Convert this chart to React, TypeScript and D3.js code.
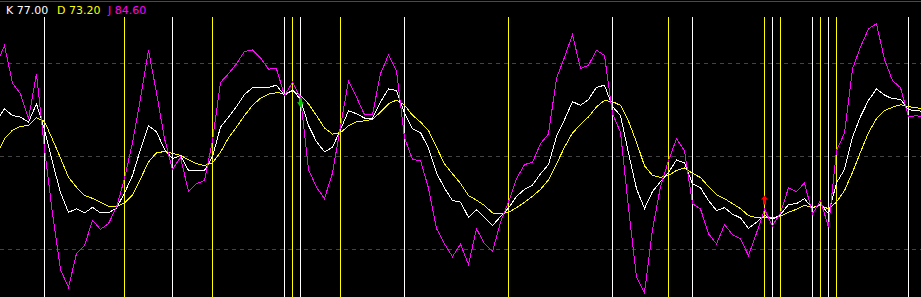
import React, { useEffect } from 'react';
import * as d3 from 'd3';

const W = 921;
const H = 297;

// bar indices run from -1 (just off the left edge) to 115
const firstBar = -1;
const lastBar = 115;

const kValues = [
  61.6, 65.4, 63.2, 62.7, 61.1, 67.0, 58.7, 48.1, 38.4, 32.0,
  33.1, 31.8, 33.6, 31.8, 31.8, 33.4, 38.2, 43.9, 52.3, 59.9,
  58.0, 52.3, 49.3, 50.3, 45.5, 45.5, 45.5, 50.0, 59.5, 62.7,
  66.1, 70.0, 72.2, 72.4, 72.3, 73.0, 69.7, 71.5, 68.4, 60.0,
  54.8, 51.5, 53.0, 58.7, 64.7, 63.8, 62.4, 62.4, 67.6, 71.8,
  71.3, 63.9, 58.9, 57.7, 52.7, 44.7, 39.8, 35.8, 35.3, 30.4,
  32.8, 30.3, 27.7, 30.6, 33.4, 37.1, 39.4, 40.8, 44.4, 47.4,
  56.5, 61.9, 67.7, 66.5, 68.4, 72.3, 73.0, 66.1, 63.2, 51.1,
  39.6, 33.2, 38.7, 41.9, 44.8, 48.9, 47.9, 41.2, 39.9, 35.8,
  32.6, 33.5, 31.4, 30.2, 26.8, 28.8, 31.0, 29.7, 31.3, 34.5,
  34.8, 36.4, 33.3, 34.7, 31.5, 41.5, 45.8, 56.2, 62.9, 68.1,
  71.8, 69.8, 68.6, 68.5, 65.1, 64.8, 64.5,
];

const dValues = [
  50.6, 55.7, 58.5, 59.7, 60.0, 62.5, 61.3, 55.5, 49.5, 43.3,
  40.1, 37.4, 36.5, 35.2, 33.9, 33.8, 35.0, 37.6, 42.8, 48.2,
  51.2, 51.6, 51.0, 50.4, 48.9, 47.7, 47.1, 48.0, 51.4, 56.0,
  59.5, 63.2, 66.5, 68.8, 70.1, 70.6, 70.3, 71.0, 69.7, 67.0,
  63.2, 59.2, 57.2, 57.7, 59.9, 61.2, 61.5, 62.0, 64.3, 67.0,
  68.2, 66.6, 63.3, 61.1, 58.4, 53.0, 47.6, 44.4, 41.3, 37.4,
  35.9, 34.2, 31.8, 31.5, 32.0, 33.5, 35.2, 37.2, 39.4, 42.5,
  47.6, 53.0, 57.6, 60.3, 62.8, 66.0, 68.1, 67.7, 66.5, 61.4,
  54.6, 47.0, 43.9, 43.3, 43.9, 45.5, 46.3, 44.6, 43.2, 40.3,
  37.7, 36.4, 34.8, 33.2, 30.9, 30.3, 30.5, 30.2, 30.8, 32.0,
  33.0, 34.2, 33.6, 34.2, 33.1, 35.3, 39.0, 44.9, 51.4, 57.7,
  62.2, 64.8, 65.9, 66.7, 66.1, 65.7, 65.3,
];

const jValues = [
  79.7, 85.8, 73.7, 70.2, 62.2, 76.7, 52.5, 31.6, 13.5, 7.8,
  18.7, 21.3, 29.4, 26.5, 28.4, 33.6, 42.9, 54.5, 68.7, 84.2,
  70.6, 55.8, 45.8, 49.8, 38.7, 41.2, 42.3, 55.2, 73.9, 76.7,
  79.9, 83.9, 84.4, 81.8, 78.2, 78.3, 69.7, 73.9, 69.1, 45.8,
  40.1, 36.4, 44.7, 59.7, 74.4, 69.1, 63.5, 63.6, 76.7, 82.8,
  77.7, 56.1, 49.0, 48.7, 39.8, 26.8, 21.8, 17.7, 21.7, 15.2,
  26.7, 21.9, 19.3, 28.8, 35.3, 42.8, 47.4, 48.1, 54.1, 57.3,
  75.2, 82.0, 89.3, 78.4, 79.4, 84.3, 82.6, 63.8, 57.8, 33.5,
  11.1, 6.1, 26.5, 40.3, 48.7, 55.7, 51.9, 34.8, 33.1, 25.1,
  21.8, 28.0, 24.8, 23.5, 18.0, 25.3, 32.9, 27.7, 31.8, 39.9,
  38.6, 41.5, 31.5, 35.8, 27.2, 51.9, 57.6, 78.3, 85.3, 91.2,
  92.8, 81.3, 74.5, 72.2, 62.8, 63.2, 62.3,
];

const gridLevels = [20, 50, 80];
const buySignalBars = [95];
const sellSignalBars = [37];

const legendLabels = ['K', 'D', 'J'];
const legendValues = ['77.00', '73.20', '84.60'];
const legendColors = ['#ffffff', '#ffff00', '#ff00ff'];
const legendX = [6, 57, 108];

export default function App() {
  useEffect(() => {
    document.body.style.margin = '0';
    document.body.style.background = '#000';
  }, []);

  const bars = kValues.map((_, i) => i + firstBar);
  const x = d3.scaleLinear().domain([firstBar, lastBar]).range([-3.5, 924.5]);
  const y = d3.scaleLinear().domain([0, 100]).range([311.5, 1.5]);

  const mk = (vals: number[]) =>
    d3
      .line<number>()
      .x((_, i) => x(bars[i]))
      .y((v) => y(v))(vals) || '';

  // crossovers of K and D
  const crosses: { bar: number; golden: boolean }[] = [];
  for (let i = 1; i < kValues.length; i++) {
    const prev = kValues[i - 1] - dValues[i - 1];
    const cur = kValues[i] - dValues[i];
    if (prev < 0 && cur >= 0) crosses.push({ bar: bars[i], golden: true });
    if (prev >= 0 && cur < 0) crosses.push({ bar: bars[i], golden: false });
  }

  const jAt = (bar: number) => jValues[bar - firstBar];

  return (
    <svg
      width={W}
      height={H}
      style={{ position: 'absolute', left: 0, top: 0, display: 'block', background: '#000' }}
    >
      <rect x={0} y={0} width={W} height={H} fill="#000" />
      <line x1={0} x2={W} y1={y(100)} y2={y(100)} stroke="#4a4a4a" strokeWidth={1} shapeRendering="crispEdges" />
      {gridLevels.map((g) => (
        <line
          key={g}
          x1={0}
          x2={W}
          y1={y(g)}
          y2={y(g)}
          stroke="#444444"
          strokeWidth={1}
          strokeDasharray="4,4"
          shapeRendering="crispEdges"
        />
      ))}
      {crosses.map((c) => (
        <line
          key={c.bar}
          x1={x(c.bar)}
          x2={x(c.bar)}
          y1={17}
          y2={H}
          stroke={c.golden ? '#ffff00' : '#ffffff'}
          strokeWidth={1}
          shapeRendering="crispEdges"
        />
      ))}
      <path d={mk(dValues)} fill="none" stroke="#ffff00" strokeWidth={1} shapeRendering="crispEdges" />
      <path d={mk(kValues)} fill="none" stroke="#ffffff" strokeWidth={1} shapeRendering="crispEdges" />
      <path d={mk(jValues)} fill="none" stroke="#ff00ff" strokeWidth={1} shapeRendering="crispEdges" />
      {buySignalBars.map((b) => {
        const cx = x(b);
        const t = y(jAt(b)) - 14;
        const d = `M${cx},${t} L${cx + 3.5},${t + 4} L${cx + 1.5},${t + 4} L${cx + 1.5},${t + 9} L${cx - 1.5},${t + 9} L${cx - 1.5},${t + 4} L${cx - 3.5},${t + 4} Z`;
        return <path key={'b' + b} d={d} fill="#ff0000" />;
      })}
      {sellSignalBars.map((b) => {
        const cx = x(b);
        const t = y(jAt(b)) + 1;
        const d = `M${cx - 1.5},${t} L${cx + 1.5},${t} L${cx + 1.5},${t + 4} L${cx + 3.5},${t + 4} L${cx},${t + 9} L${cx - 3.5},${t + 4} L${cx - 1.5},${t + 4} Z`;
        return <path key={'s' + b} d={d} fill="#00cc00" />;
      })}
      {legendLabels.map((l, i) => (
        <text
          key={l}
          x={legendX[i]}
          y={13.5}
          fill={legendColors[i]}
          fontFamily="'DejaVu Sans', sans-serif"
          fontSize={11}
        >
          {l} {legendValues[i]}
        </text>
      ))}
    </svg>
  );
}
